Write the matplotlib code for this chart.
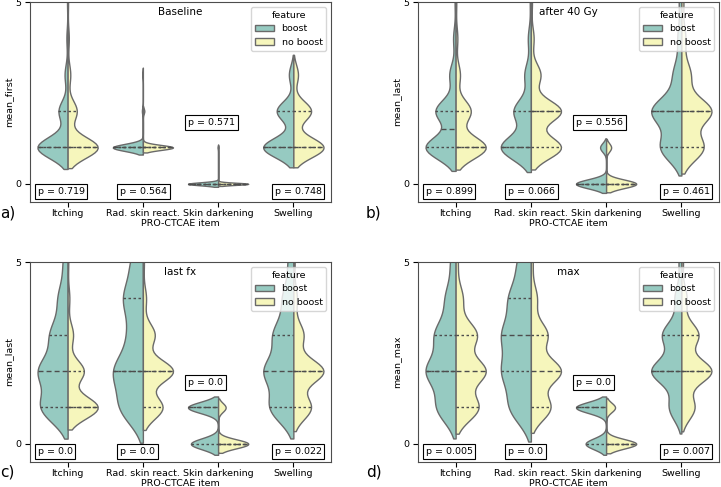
import numpy as np
import pandas as pd
import matplotlib
matplotlib.use("Agg")
import matplotlib.pyplot as plt
import seaborn as sns

items = ["Itching", "Rad. skin react.", "Skin darkening", "Swelling"]
groups = ["boost", "no boost"]
scores = [0, 1, 2, 3, 4, 5, 6]

# patients per score (columns = scores), one row per item
baseline_boost = [
    [0, 200, 60, 20, 8, 4, 2],
    [0, 250, 8, 4, 0, 0, 0],
    [250, 4, 0, 0, 0, 0, 0],
    [0, 47, 26, 7, 0, 0, 0],
]
baseline_noboost = [
    [0, 205, 62, 18, 8, 3, 2],
    [0, 250, 12, 0, 0, 0, 0],
    [250, 2, 0, 0, 0, 0, 0],
    [0, 46, 27, 7, 0, 0, 0],
]
gy40_boost = [
    [0, 120, 80, 25, 10, 4, 1],
    [0, 140, 80, 30, 14, 5, 2],
    [200, 40, 0, 0, 0, 0, 0],
    [0, 75, 107, 30, 14, 9, 5],
]
gy40_noboost = [
    [0, 140, 70, 20, 8, 3, 1],
    [0, 110, 110, 35, 10, 4, 1],
    [210, 35, 0, 0, 0, 0, 0],
    [0, 78, 106, 32, 14, 7, 3],
]
lastfx_boost = [
    [0, 70, 75, 45, 25, 12, 5],
    [0, 60, 75, 35, 50, 30, 10],
    [190, 210, 0, 0, 0, 0, 0],
    [0, 65, 80, 55, 30, 15, 6],
]
lastfx_noboost = [
    [0, 140, 75, 25, 8, 3, 1],
    [0, 75, 115, 45, 12, 4, 1],
    [280, 70, 0, 0, 0, 0, 0],
    [0, 70, 120, 40, 14, 5, 2],
]
max_boost = [
    [0, 55, 85, 60, 30, 15, 8],
    [0, 50, 65, 65, 50, 30, 15],
    [150, 220, 0, 0, 0, 0, 0],
    [0, 45, 110, 70, 25, 10, 4],
]
max_noboost = [
    [0, 65, 85, 60, 20, 6, 2],
    [0, 65, 100, 55, 20, 6, 2],
    [270, 80, 0, 0, 0, 0, 0],
    [0, 50, 115, 65, 20, 6, 2],
]

p_baseline = [0.719, 0.564, 0.571, 0.748]
p_gy40 = [0.899, 0.066, 0.556, 0.461]
p_lastfx = [0.0, 0.0, 0.0, 0.022]
p_max = [0.005, 0.0, 0.0, 0.007]

titles = ["Baseline", "after 40 Gy", "last fx", "max"]
ylabels = ["mean_first", "mean_last", "mean_last", "mean_max"]
letters = ["a)", "b)", "c)", "d)"]


def make_df(boost_counts, noboost_counts, col):
    rows = []
    for grp, table in zip(groups, [boost_counts, noboost_counts]):
        for item, counts in zip(items, table):
            for v in np.repeat(scores, counts):
                rows.append((item, float(v), grp))
    return pd.DataFrame(rows, columns=["PRO-CTCAE item", col, "feature"])


plt.rcParams["font.size"] = 6.8
plt.rcParams["axes.edgecolor"] = "0.3"
plt.rcParams["xtick.major.pad"] = 1.5
plt.rcParams["ytick.major.pad"] = 2.5

fig = plt.figure(figsize=(7.21, 4.87), dpi=100)
W, H = 721, 487
boxes = [(30, 2), (418, 2), (30, 262), (418, 262)]  # left, top in pixels
letter_pos = [(0, 213), (366, 213), (0, 472), (366, 472)]

panels = [
    (baseline_boost, baseline_noboost, p_baseline),
    (gy40_boost, gy40_noboost, p_gy40),
    (lastfx_boost, lastfx_noboost, p_lastfx),
    (max_boost, max_noboost, p_max),
]
# p boxes: left-aligned x and y in data units
p_x = [-0.4, 0.7, 1.6, 2.75]
p_y = [-0.22, -0.22, 1.69, -0.22]

for k, (b, nb, pv) in enumerate(panels):
    left, top = boxes[k]
    ax = fig.add_axes([left / W, 1 - (top + 200) / H, 301 / W, 200 / H])
    df = make_df(b, nb, ylabels[k])
    sns.violinplot(data=df, x="PRO-CTCAE item", y=ylabels[k], hue="feature",
                   hue_order=groups, order=items, split=True, inner="quart",
                   density_norm="width", palette="Set3", linewidth=1, ax=ax)
    # quartile lines: short dashes, median: long dashes
    for j, ln in enumerate(ax.lines):
        if j % 3 == 1:
            ln.set_dashes([3.6, 2.2])
        else:
            ln.set_dashes([1.8, 1.8])
        ln.set_linewidth(1.0)
        ln.set_color("0.3")
    ax.set_ylim(-0.5, 5)
    ax.set_yticks([0, 5])
    ax.set_ylabel(ylabels[k], labelpad=2)
    ax.set_xlabel("PRO-CTCAE item", labelpad=1)
    ax.text(0.5, 0.975, titles[k], transform=ax.transAxes, ha="center",
            va="top", fontsize=7.5)
    for i, p in enumerate(pv):
        ax.text(p_x[i], p_y[i], f"p = {p}", ha="left", va="center",
                bbox=dict(boxstyle="square,pad=0.3", fc="white", ec="black", lw=0.8))
    sns.move_legend(ax, "upper right", title="feature", fontsize=6.8,
                    title_fontsize=6.8)
    fig.text(letter_pos[k][0] / W, 1 - letter_pos[k][1] / H, letters[k],
             fontsize=11, va="center", ha="left")

fig.savefig("out.png", dpi=100)
